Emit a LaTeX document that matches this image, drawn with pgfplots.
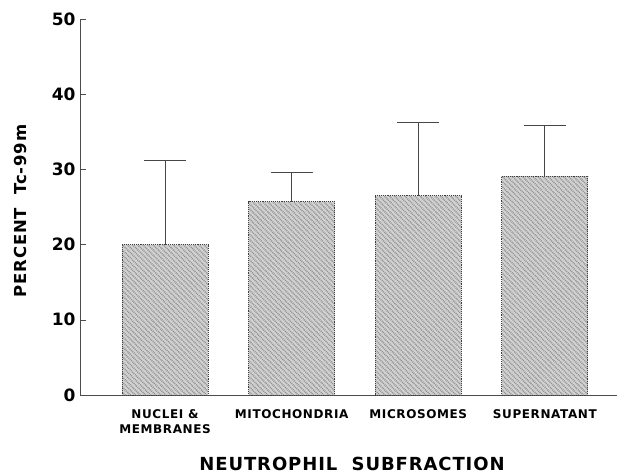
\documentclass[border=0pt]{standalone}
\usepackage{fontspec}
\setmainfont{DejaVu Sans}
\newfontfamily\spaced{DejaVu Sans}[LetterSpace=5]
\usepackage{pgfplots}
\pgfplotsset{compat=1.18}
\usetikzlibrary{patterns.meta}
\begin{document}
\begin{tikzpicture}
\begin{axis}[
  at={(0,0)}, anchor=south west,
  scale only axis, width=537pt, height=376pt,
  xmin=-0.672, xmax=3.57, ymin=0, ymax=50,
  axis lines*=left,
  axis line style={gray!60!black, line width=0.7pt},
  ytick={0,10,20,30,40,50},
  tick align=inside, major tick length=6pt,
  tick style={gray!60!black, line width=0.6pt},
  xtick={0,1,2,3}, xtick style={draw=none},
  xticklabels={{NUCLEI \&\\MEMBRANES},{MITOCHONDRIA},{MICROSOMES},{SUPERNATANT}},
  xticklabel style={align=center, font=\spaced\fontsize{12}{15}\selectfont\bfseries, yshift=-11pt},
  yticklabel style={font=\fontsize{17}{17}\selectfont\bfseries, xshift=-1pt},
  /pgf/number format/assume math mode=true,
  clip=false,
]
\addplot[ybar, bar width=86pt,
  draw=black!75, densely dotted, line width=0.9pt,
  fill=gray!35,
  postaction={pattern={Lines[angle=-45,distance=3.6pt,line width=1.6pt]}, pattern color=gray!85},
  error bars/.cd, y dir=plus, y explicit,
  error bar style={solid, gray!55!black, line width=0.8pt},
  error mark options={solid, rotate=90, mark size=21pt, gray!55!black, line width=0.8pt},
] coordinates {
  (0,20.0) +- (0,11.25)
  (1,25.7) +- (0,3.85)
  (2,26.5) +- (0,9.7)
  (3,29.1) +- (0,6.8)
};
\end{axis}
\node[rotate=90, anchor=base, font=\spaced\fontsize{16.5}{17}\selectfont\bfseries] at (-53pt,184pt) {PERCENT\ \ Tc-99m};
\node[anchor=base, font=\spaced\fontsize{18}{19}\selectfont\bfseries] at (272pt,-75pt) {NEUTROPHIL\ \ SUBFRACTION};
\path[use as bounding box] (-80pt,-78pt) rectangle (540pt,395pt);
\end{tikzpicture}
\end{document}
